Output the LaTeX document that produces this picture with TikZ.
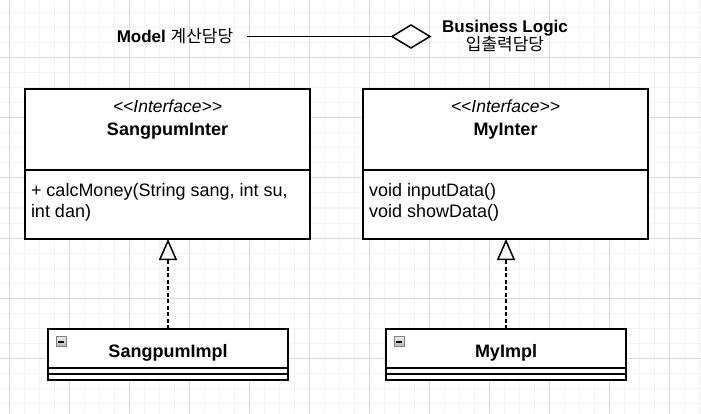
\documentclass[tikz,border=0pt]{standalone}
\usepackage{fontspec}
\setmainfont{Liberation Sans}
\newfontfamily\kofont{Noto Sans CJK KR}
\usetikzlibrary{arrows.meta,positioning,shapes.geometric}
\definecolor{gridminor}{RGB}{243,243,243}
\definecolor{gridmajor}{RGB}{217,217,217}
\newcommand{\stereotype}[1]{<\kern0pt<#1>\kern0pt>}

\begin{document}
\begin{tikzpicture}[
  x=1pt, y=-1pt,
  font=\fontsize{18}{21}\selectfont,
  every node/.style={outer sep=0pt},
  classbox/.style={draw, line width=1.6pt, fill=white, minimum width=285pt, inner sep=0pt},
  implbox/.style={draw, line width=1.6pt, fill=white, minimum width=240pt, inner sep=0pt},
  txt/.style={inner sep=0pt},
  stereo/.style={txt, font=\fontsize{17.5}{20}\selectfont\itshape},
  cname/.style={txt, font=\fontsize{18}{21}\selectfont\bfseries},
  icon/.style={draw=gray, line width=1pt, top color=gray!15, bottom color=gray!60, minimum size=10pt, inner sep=0pt},
  realize/.style={-{Triangle[open, length=21pt, width=18pt, line width=1.5pt]}, line width=1.5pt, dash pattern=on 4pt off 2.5pt},
  agg/.style={draw, diamond, line width=1.5pt, fill=white, minimum width=38pt, minimum height=23pt, inner sep=0pt}
]
  \useasboundingbox (0,0) rectangle (701,414);
  \fill[white] (0,0) rectangle (701,414);

  % background grid
  \foreach \gx in {-5.5,9.5,...,700} \draw[gridminor, line width=1pt] (\gx,0) -- (\gx,414);
  \foreach \gy in {13,28,...,410} \draw[gridminor, line width=1pt] (0,\gy) -- (701,\gy);
  \foreach \gx in {9.5,69.5,...,700} \draw[gridmajor, line width=1pt] (\gx,0) -- (\gx,414);
  \foreach \gy in {58,118,...,410} \draw[gridmajor, line width=1pt] (0,\gy) -- (701,\gy);

  % legend at the top
  \node[txt, inner xsep=14pt, font=\fontsize{17}{20}\selectfont] (model) at (175,36.5) {\textbf{Model} {\kofont 계산담당}};
  \node[agg] (agg) at (411,36.5) {};
  \node[txt, align=center, font=\fontsize{17}{18}\selectfont] (logic) at (505,36) {\textbf{Business Logic}\\{\kofont 입출력담당}};
  \draw[line width=1.5pt] (model.east) -- (agg.west);

  % interfaces
  \node[classbox, minimum height=81pt] (sinter) at (167.5,129.5) {};
  \node[classbox, minimum height=69pt, below=0pt of sinter] (smeth) {};
  \node[stereo, below=11pt of sinter.north] (sster) {\stereotype{Interface}};
  \node[cname, below=10.5pt of sster] (sname) {SangpumInter};
  \node[txt, align=left, below right=13.5pt and 6pt of smeth.north west] (sops) {+ calcMoney(String sang, int su,\\int dan)};

  \node[classbox, minimum height=81pt] (minter) at (505.5,129.5) {};
  \node[classbox, minimum height=69pt, below=0pt of minter] (mmeth) {};
  \node[stereo, below=11pt of minter.north] (mster) {\stereotype{Interface}};
  \node[cname, below=10.5pt of mster] (mname) {MyInter};
  \node[txt, align=left, below right=13.5pt and 6pt of mmeth.north west] (mops) {void inputData()\\void showData()};

  % implementations
  \node[implbox, cname, minimum height=39pt, text height=21.6pt, text depth=4pt] (simpl) at (168,348.5) {SangpumImpl};
  \node[implbox, minimum height=6pt, below=0pt of simpl] (simplattr) {};
  \node[implbox, minimum height=6pt, below=0pt of simplattr] (simplops) {};
  \node[icon, below right=7.7pt and 8.3pt of simpl.north west] (sicon) {};
  \draw[line width=1.6pt] ([xshift=2pt]sicon.west) -- ([xshift=-2pt]sicon.east);

  \node[implbox, cname, minimum height=39pt, text height=21.6pt, text depth=4pt] (mimpl) at (506,348.5) {MyImpl};
  \node[implbox, minimum height=6pt, below=0pt of mimpl] (mimplattr) {};
  \node[implbox, minimum height=6pt, below=0pt of mimplattr] (mimplops) {};
  \node[icon, below right=7.7pt and 8.3pt of mimpl.north west] (micon) {};
  \draw[line width=1.6pt] ([xshift=2pt]micon.west) -- ([xshift=-2pt]micon.east);

  % realization
  \draw[realize] (simpl.north) -- (simpl.north |- smeth.south);
  \draw[realize] (mimpl.north) -- (mimpl.north |- mmeth.south);
\end{tikzpicture}
\end{document}
